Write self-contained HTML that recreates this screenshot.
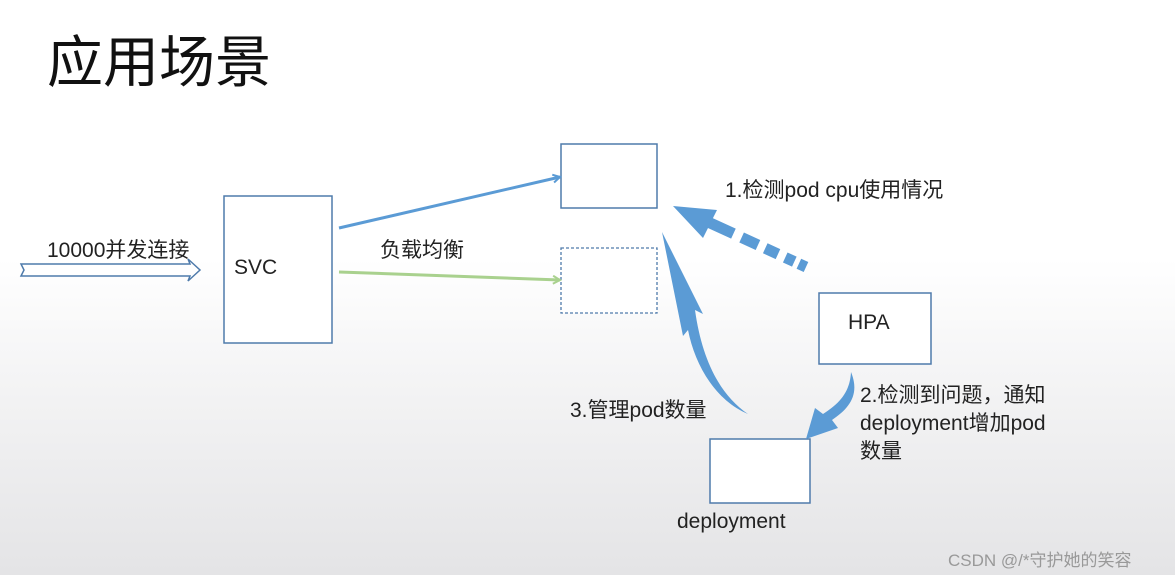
<!DOCTYPE html>
<html><head><meta charset="utf-8"><style>
html,body{margin:0;padding:0}
body{width:1175px;height:575px;overflow:hidden;position:relative;background:linear-gradient(#ffffff 0%,#ffffff 45%,#f2f2f3 70%,#e4e4e6 100%);font-family:"Liberation Sans","Noto Sans CJK SC",sans-serif;color:#222}
.t{position:absolute;white-space:nowrap}
</style></head><body>
<svg width="1175" height="575" style="position:absolute;left:0;top:0">
<defs><marker id="ab" markerWidth="10" markerHeight="10" refX="8" refY="5" orient="auto" markerUnits="userSpaceOnUse"><path d="M1,1 L8,5 L1,9" fill="none" stroke="#5b9bd5" stroke-width="2"/></marker>
<marker id="ag" markerWidth="10" markerHeight="10" refX="8" refY="5" orient="auto" markerUnits="userSpaceOnUse"><path d="M1,1 L8,5 L1,9" fill="none" stroke="#a9d18e" stroke-width="2"/></marker></defs>
<rect x="224" y="196" width="108" height="147" fill="#fff" stroke="#4f7bab" stroke-width="1.5"/>
<rect x="561" y="144" width="96" height="64" fill="#fff" stroke="#4f7bab" stroke-width="1.5"/>
<rect x="561" y="248" width="96" height="65" fill="#fff" stroke="#4f7bab" stroke-width="1.3" stroke-dasharray="3,2"/>
<rect x="819" y="293" width="112" height="71" fill="#fff" stroke="#4f7bab" stroke-width="1.5"/>
<rect x="710" y="439" width="100" height="64" fill="#fff" stroke="#4f7bab" stroke-width="1.5"/>
<path d="M21,264 L190,264 L188,259 L200,270 L188,281 L190,276 L21,276 L24,270 Z" fill="#fff" stroke="#4f7bab" stroke-width="1.5"/>
<line x1="339" y1="228" x2="560" y2="177" stroke="#5b9bd5" stroke-width="3" marker-end="url(#ab)"/>
<line x1="339" y1="272" x2="560" y2="280" stroke="#a9d18e" stroke-width="3" marker-end="url(#ag)"/>
<line x1="708" y1="222" x2="806" y2="267" stroke="#5b9bd5" stroke-width="11" stroke-dasharray="28,9,18,8,14,8,10,5,8,100"/>
<path d="M673,206 L717,210 L703,238 Z" fill="#5b9bd5"/>
<path d="M748,414 C715,400 695,365 688,330 L683,336 L662,232 L703,314 L695,310 C702,360 720,395 748,414 Z" fill="#5b9bd5"/>
<path d="M851,372 C860,394 850,408 832,420 L838,428 L806,439 L815,408 L823,414 C842,402 850,390 851,372 Z" fill="#5b9bd5"/>
</svg>
<div class="t" style="left:47px;top:18px;font-size:56px;color:#111">应用场景</div>
<div class="t" style="left:47px;top:234px;font-size:21px">10000并发连接</div>
<div class="t" style="left:234px;top:256px;font-size:21px">SVC</div>
<div class="t" style="left:380px;top:234px;font-size:21px">负载均衡</div>
<div class="t" style="left:725px;top:174px;font-size:21px">1.检测pod cpu使用情况</div>
<div class="t" style="left:848px;top:311px;font-size:21px">HPA</div>
<div class="t" style="left:570px;top:394px;font-size:21px">3.管理pod数量</div>
<div class="t" style="left:860px;top:382px;font-size:21px;line-height:28px">2.检测到问题，通知<br>deployment增加pod<br>数量</div>
<div class="t" style="left:677px;top:510px;font-size:21px">deployment</div>
<div class="t" style="left:948px;top:546px;font-size:17px;color:#999">CSDN @/*守护她的笑容</div>
</body></html>
